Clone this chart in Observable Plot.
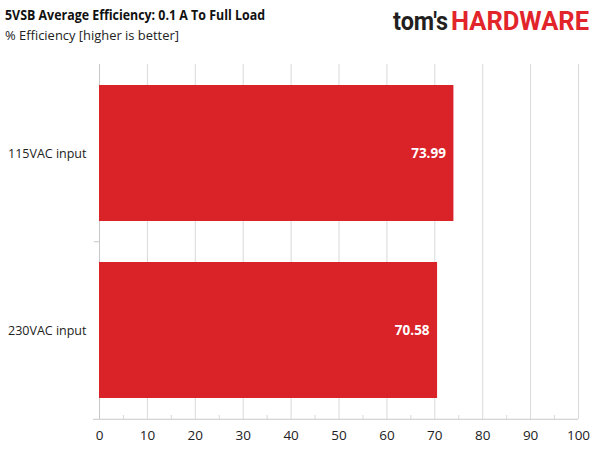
<!DOCTYPE html>
<html>
<head>
<meta charset="utf-8">
<script src="https://cdn.jsdelivr.net/npm/d3@7"></script>
<script src="https://cdn.jsdelivr.net/npm/@observablehq/plot@0.6"></script>
<style>
  body { margin: 0; background: #fff; }
  #wrap { position: relative; width: 600px; height: 450px; font-family: "Open Sans", sans-serif; }
  #head { position: absolute; left: 0; top: 0; }
</style>
</head>
<body>
<div id="wrap">
  <svg id="head" width="600" height="60" xmlns="http://www.w3.org/2000/svg">
    <text x="5" y="20" font-family="Open Sans" font-weight="bold" font-size="14.5" fill="#111" textLength="260" lengthAdjust="spacingAndGlyphs">5VSB Average Efficiency: 0.1 A To Full Load</text>
    <text x="5" y="40" font-family="Open Sans" font-size="13.5" fill="#222" textLength="174" lengthAdjust="spacingAndGlyphs">% Efficiency [higher is better]</text>
    <text x="393" y="30" font-family="Roboto" font-weight="bold" font-size="25" fill="#231f20" textLength="55" lengthAdjust="spacingAndGlyphs">tom's</text>
    <text x="451" y="30" font-family="Roboto" font-weight="bold" font-size="25" fill="#e1252b" textLength="138" lengthAdjust="spacingAndGlyphs">HARDWARE</text>
  </svg>
</div>
<script>
const categories = ["115VAC input", "230VAC input"];
const values = [73.99, 70.58];
const xTicks = [0, 10, 20, 30, 40, 50, 60, 70, 80, 90, 100];
const minorTicks = [5, 15, 25, 35, 45, 55, 65, 75, 85, 95];

const data = categories.map((c, i) => ({name: c, value: values[i]}));

const W = 600, H = 450, mt = 64, mb = 31, ml = 99, mr = 22;
const step = (H - mt - mb) / categories.length;
const axisColor = "#c8c8c8";
const gridColor = "#d9d9d9";

const chart = Plot.plot({
  width: W,
  height: H,
  marginTop: mt,
  marginBottom: mb,
  marginLeft: ml,
  marginRight: mr,
  style: {fontFamily: "Open Sans", fontSize: "13px", color: "#222", background: "transparent"},
  x: {domain: [0, 100], ticks: xTicks, label: null},
  y: {domain: categories, paddingInner: 0.234, paddingOuter: 0.117, label: null},
  marks: [
    Plot.gridX(xTicks.slice(1), {stroke: gridColor, strokeOpacity: 1}),
    Plot.ruleX(minorTicks, {stroke: gridColor, strokeOpacity: 1, insetTop: (H - mt - mb) - 4}),
    Plot.ruleX([0], {stroke: axisColor}),
    Plot.ruleY([categories[categories.length - 1]], {x1: 0, x2: 100, insetLeft: -6, dy: step / 2, stroke: axisColor}),
    Plot.ruleY([categories[1]], {x1: 0, x2: 0, insetLeft: -5, dy: -step / 2, stroke: axisColor}),
    Plot.barX(data, {y: "name", x: "value", fill: "#da2329"}),
    Plot.text(data, {y: "name", x: "value", text: d => d.value.toFixed(2), textAnchor: "end", dx: -8, fill: "white", fontWeight: "bold", fontSize: 13.5}),
    Plot.axisX(xTicks, {tickSize: 0, tickPadding: 11, fontSize: 13.5, tickFormat: d => String(d)}),
    Plot.axisY({tickSize: 0, tickPadding: 13, fontSize: 12.5})
  ]
});
chart.style.position = "absolute";
chart.style.left = "0";
chart.style.top = "0";
document.getElementById("wrap").appendChild(chart);
</script>
</body>
</html>
